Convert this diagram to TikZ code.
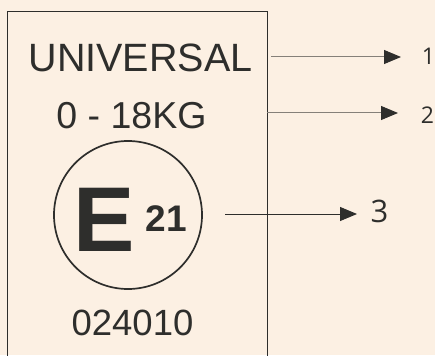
\documentclass[tikz,border=0pt]{standalone}
\usepackage{fontspec}
\setmainfont{Liberation Sans}
\newfontfamily\labelfont{Open Sans}
\usetikzlibrary{arrows.meta}
\definecolor{bg}{HTML}{FCF0E3}
\definecolor{ink}{HTML}{2E2E2C}
\definecolor{lgray}{HTML}{858079}
\begin{document}
\begin{tikzpicture}[x=1pt,y=-1pt,
  txt/.style={inner sep=0pt,text=ink,anchor=center},
  tip/.style={-{Triangle[length=17pt,width=14pt,fill=ink,color=ink]}},
  callout/.style={tip,line width=1pt},
  num/.style={inner sep=0pt,text=ink,font=\labelfont\fontsize{23}{23}\selectfont}]
\fill[bg] (0,0) rectangle (435,355);
\useasboundingbox (0,0) rectangle (435,355);
\draw[ink,line width=1pt] (7,360) -- (7,12) -- (267,12) -- (267,360);
\node[txt,font=\fontsize{39.5}{39.5}\selectfont] (uni) at (140.5,57.5) {UNIVERSAL};
\node[txt,font=\fontsize{37.5}{37.5}\selectfont] (kg) at (131.5,116) {0 - 18KG};
\node[circle,draw=ink,line width=1.7pt,minimum size=148pt,inner sep=0pt] (circ) at (128,215) {};
\node[txt,font=\bfseries\fontsize{92}{92}\selectfont] (E) at (104,220) {E};
\node[txt,font=\bfseries\fontsize{37}{37}\selectfont] (n21) at (166.5,218.5) {21};
\node[txt,font=\fontsize{36.5}{36.5}\selectfont] (code) at (132.5,322.5) {024010};
\node[num] (l1) at (428.5,56) {1};
\node[num] (l2) at (427.5,115) {2};
\node[num,font=\labelfont\fontsize{31}{31}\selectfont] (l3) at (379.5,211) {3};
\coordinate (s1) at (271,57);
\coordinate (e1) at (401,57);
\coordinate (s2) at (267,113);
\coordinate (e2) at (398,113);
\coordinate (s3) at (225,214);
\coordinate (e3) at (357,214);
\draw[callout,lgray] (s1) -- (e1);
\draw[callout,lgray] (s2) -- (e2);
\draw[callout,ink] (s3) -- (e3);
\end{tikzpicture}
\end{document}
